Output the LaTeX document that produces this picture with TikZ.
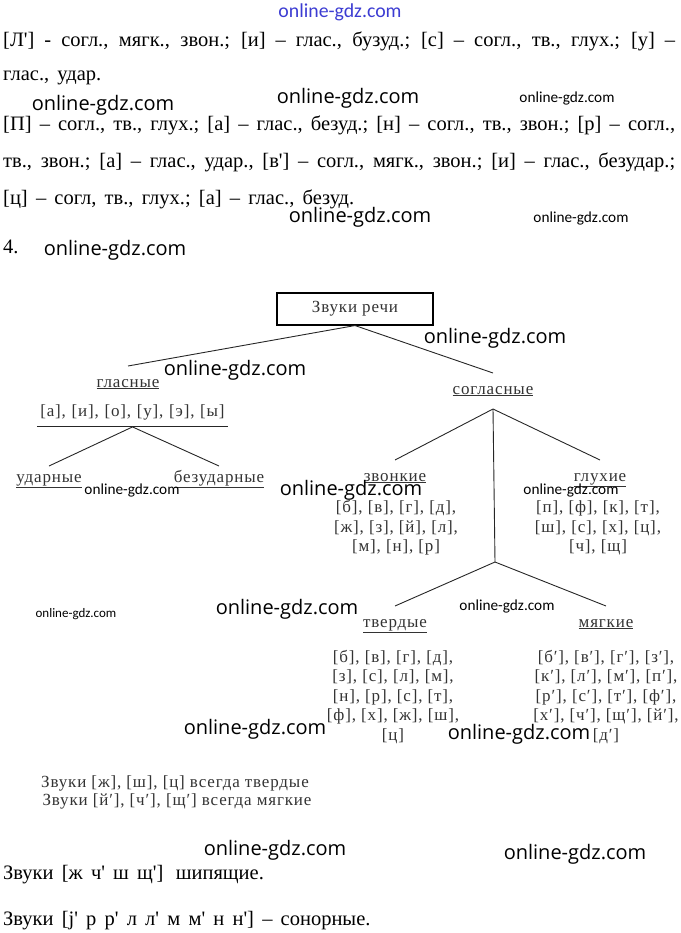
\documentclass[tikz,border=0pt]{standalone}
\usepackage{fontspec}
\setmainfont{Liberation Serif}
\newfontfamily\dgfont{Liberation Serif}[LetterSpace=5]
\newfontfamily\wmbig{Open Sans}
\newfontfamily\wmsmall{Carlito}
\newcommand\sq{\textquotesingle}
\newcommand\dfont{\dgfont\fontsize{17}{19.5}\selectfont}
\newcommand\tfont{\fontsize{20.5}{24}\selectfont\spaceskip=0.4em plus 0.6em minus 0.15em\relax}
\begin{document}
\begin{tikzpicture}[x=1pt,y=-1pt,
    txt/.style={anchor=base west,inner sep=0pt,font=\tfont},
    cat/.style={anchor=base,inner sep=0pt,text height=9pt,text depth=3pt,outer ysep=12pt,font=\dfont,text=black!80},
    lst/.style={align=center,inner sep=0pt,font=\dfont,text=black!80},
    note/.style={anchor=base,inner sep=0pt,font=\dfont,text=black!80},
    wm/.style={inner sep=0pt,font=\wmbig\fontsize{20}{20}\selectfont},
    wms/.style={inner sep=0pt,font=\wmsmall\fontsize{15.3}{15.3}\selectfont}]
  \useasboundingbox (0,0) rectangle (680,933);
  % text above the scheme
  \draw
    (3,47) node[txt] (l1){\hbox to 672pt{[Л\sq] - согл., мягк., звон.; [и] – глас., бузуд.; [с] – согл., тв., глух.; [у] –}}
    (3,81) node[txt] (l2){глас., удар.}
    (3,131) node[txt] (l3){\hbox to 672pt{[П] – согл., тв., глух.; [а] – глас., безуд.; [н] – согл., тв., звон.; [р] – согл.,}}
    (3,168) node[txt] (l4){\hbox to 672pt{тв., звон.; [а] – глас., удар., [в\sq] – согл., мягк., звон.; [и] – глас., безудар.;}}
    (3,205) node[txt] (l5){[ц] – согл, тв., глух.; [а] – глас., безуд.}
    (3,253) node[txt] (l6){4.};
  % scheme
  \draw
    (355,309) node[draw,line width=1.1pt,minimum width=156pt,minimum height=32pt,inner sep=0pt,font=\dfont,text=black!80] (root){Звуки речи}
    (128,387) node[cat] (glas){\underline{гласные}}
    (132.5,412) node[lst,text width=191pt,inner ysep=7pt] (glist){[а], [и], [о], [у], [э], [ы]}
    (49,482) node[cat,outer ysep=7pt] (udar){\underline{ударные}}
    (219,482) node[cat,outer ysep=7pt] (bezudar){\underline{безударные}}
    (493,394) node[cat] (sogl){\underline{согласные}}
    (395,481) node[cat] (zvon){\underline{звонкие}}
    (600,481) node[cat] (gluh){\underline{глухие}}
    (396,528) node[lst] (zlist){[б], [в], [г], [д],\\{}[ж], [з], [й], [л],\\{}[м], [н], [р]}
    (598,528) node[lst] (glist2){[п], [ф], [к], [т],\\{}[ш], [с], [х], [ц],\\{}[ч], [щ]}
    (395,627) node[cat] (tverd){\underline{твердые}}
    (606,627) node[cat] (myag){\underline{мягкие}}
    (393,697) node[lst] (tlist){[б], [в], [г], [д],\\{}[з], [с], [л], [м],\\{}[н], [р], [с], [т],\\{}[ф], [х], [ж], [ш],\\{}[ц]}
    (606,697) node[lst] (mlist){[б′], [в′], [г′], [з′],\\{}[к′], [л′], [м′], [п′],\\{}[р′], [с′], [т′], [ф′],\\{}[х′], [ч′], [щ′], [й′],\\{}[д′]};
  \coordinate (fork) at (495,562);
  \begin{scope}[line width=0.9pt,black!85]
    \draw (root.south) to (glas.north);
    \draw (root.south) to (sogl.north);
    \draw (glist.south west) to (glist.south east);
    \draw (glist.south) to (udar.north);
    \draw (glist.south) to (bezudar.north);
    \draw (sogl.south) to (zvon.north);
    \draw (sogl.south) to (gluh.north);
    \draw (sogl.south) to (fork);
    \draw (fork) to (tverd.north);
    \draw (fork) to (myag.north);
  \end{scope}
  % notes under the scheme
  \draw
    (175,787) node[note] (n1){Звуки [ж], [ш], [ц] всегда твердые}
    (177,805) node[note] (n2){Звуки [й′], [ч′], [щ′] всегда мягкие}
    (3,879) node[txt] (b1){Звуки [ж ч\sq{} ш щ\sq]\hspace{0.6em}шипящие.}
    (3,925) node[txt] (b2){Звуки [j\sq{} р р\sq{} л л\sq{} м м\sq{} н н\sq] – сонорные.};
  % watermarks
  \draw
    (340,12) node[wms,font=\wmsmall\fontsize{19.8}{19.8}\selectfont,text={rgb,255:red,60;green,60;blue,210}] (w0){online-gdz.com}
    (103,105) node[wm] (w1){online-gdz.com}
    (348,98) node[wm] (w2){online-gdz.com}
    (567,99) node[wms] (w3){online-gdz.com}
    (360,217) node[wm] (w4){online-gdz.com}
    (581,219) node[wms] (w5){online-gdz.com}
    (115,250) node[wm] (w6){online-gdz.com}
    (495,338) node[wm] (w7){online-gdz.com}
    (235,370) node[wm] (w8){online-gdz.com}
    (132,490) node[wms] (w9){online-gdz.com}
    (351,490) node[wm] (w10){online-gdz.com}
    (571,490) node[wms] (w11){online-gdz.com}
    (76,614) node[wms,font=\wmsmall\fontsize{13}{13}\selectfont] (w12){online-gdz.com}
    (287,609) node[wm] (w13){online-gdz.com}
    (507,606) node[wms] (w14){online-gdz.com}
    (255,729) node[wm] (w15){online-gdz.com}
    (519,734) node[wm] (w16){online-gdz.com}
    (275,850) node[wm] (w17){online-gdz.com}
    (575,854) node[wm] (w18){online-gdz.com};
\end{tikzpicture}
\end{document}
